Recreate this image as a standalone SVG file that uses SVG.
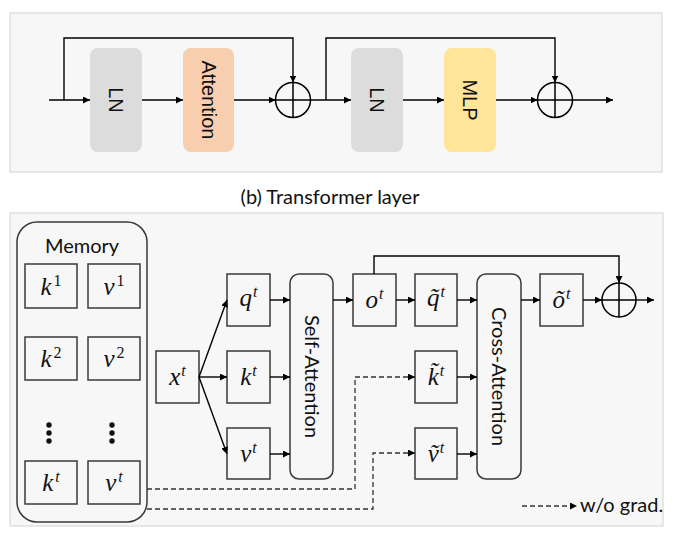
<svg xmlns="http://www.w3.org/2000/svg" width="678" height="536" viewBox="0 0 678 536">
<defs>
<marker id="ah" viewBox="0 0 10 10" refX="10" refY="5" markerWidth="7" markerHeight="7" markerUnits="userSpaceOnUse" orient="auto"><path d="M0,0 L10,5 L0,10 z" fill="#000"/></marker>
<style>
.panel{fill:#f7f7f7;stroke:#d2d2d2;stroke-width:1}
.blk{stroke:none}
.sans{font-family:"Liberation Sans",Arial,sans-serif;font-size:20px;fill:#111}
.cal{font-family:Lato,"Open Sans",sans-serif;font-size:20px;fill:#111}
.box{fill:#f7f7f7;stroke:#3a3a3a;stroke-width:1.5}
.rbox{fill:#f7f7f7;stroke:#3a3a3a;stroke-width:1.5}
.m{font-family:"Liberation Serif","DejaVu Serif",serif;font-style:italic;font-size:25px;fill:#111}
.sup{font-size:16px;font-style:normal}
.supi{font-size:16px}
.ln{fill:none;stroke:#000;stroke-width:1.4;marker-end:url(#ah)}
.dash{fill:none;stroke:#333;stroke-width:1.3;stroke-dasharray:5,3;marker-end:url(#ah)}
.plus{fill:none;stroke:#000;stroke-width:1.5}
</style>
</defs>

<!-- panels -->
<rect class="panel" x="10" y="13" width="652" height="159"/>
<rect class="panel" x="10" y="213" width="653" height="313"/>
<text class="cal" x="330" y="204" text-anchor="middle">(b) Transformer layer</text>

<!-- top panel nodes -->
<g id="ln1"><rect class="blk" x="90" y="48" width="52" height="104" rx="8" fill="#dcdcdc"/><text class="sans" transform="translate(116,100) rotate(90)" text-anchor="middle" dy="7">LN</text></g>
<g id="attn"><rect class="blk" x="183" y="48" width="51" height="104" rx="8" fill="#f8cfae"/><text class="sans" transform="translate(208.5,100) rotate(90)" text-anchor="middle" dy="7">Attention</text></g>
<g id="add1"><circle class="plus" cx="293" cy="100" r="17.5"/><path class="plus" d="M275.5,100 H310.5 M293,82.5 V117.5"/></g>
<g id="ln2"><rect class="blk" x="351" y="48" width="52" height="104" rx="8" fill="#dcdcdc"/><text class="sans" transform="translate(377,100) rotate(90)" text-anchor="middle" dy="7">LN</text></g>
<g id="mlp"><rect class="blk" x="444" y="48" width="52" height="104" rx="8" fill="#fee599"/><text class="sans" transform="translate(470,100) rotate(90)" text-anchor="middle" dy="7">MLP</text></g>
<g id="add2"><circle class="plus" cx="555" cy="100" r="17.5"/><path class="plus" d="M537.5,100 H572.5 M555,82.5 V117.5"/></g>

<!-- bottom panel nodes -->
<g id="memory">
<rect class="rbox" x="17" y="222" width="130" height="300" rx="20" stroke="#555" stroke-width="1.2"/>
<text class="cal" x="82" y="253" text-anchor="middle">Memory</text>
<rect class="box" x="25" y="264" width="52" height="44"/><text class="m" x="51" y="295" text-anchor="middle">k<tspan class="sup" dx="2" dy="-9">1</tspan></text>
<rect class="box" x="88" y="264" width="52" height="44"/><text class="m" x="114" y="295" text-anchor="middle">v<tspan class="sup" dx="2" dy="-9">1</tspan></text>
<rect class="box" x="25" y="337" width="52" height="43"/><text class="m" x="51" y="367" text-anchor="middle">k<tspan class="sup" dx="2" dy="-9">2</tspan></text>
<rect class="box" x="88" y="337" width="52" height="43"/><text class="m" x="114" y="367" text-anchor="middle">v<tspan class="sup" dx="2" dy="-9">2</tspan></text>
<circle cx="49" cy="425" r="2.7" fill="#111"/><circle cx="49" cy="433" r="2.7" fill="#111"/><circle cx="49" cy="441" r="2.7" fill="#111"/>
<circle cx="112" cy="425" r="2.7" fill="#111"/><circle cx="112" cy="433" r="2.7" fill="#111"/><circle cx="112" cy="441" r="2.7" fill="#111"/>
<rect class="box" x="25" y="461" width="52" height="43"/><text class="m" x="51" y="491" text-anchor="middle">k<tspan class="supi" dx="2" dy="-9">t</tspan></text>
<rect class="box" x="88" y="461" width="52" height="43"/><text class="m" x="114" y="491" text-anchor="middle">v<tspan class="supi" dx="2" dy="-9">t</tspan></text>
</g>
<g id="xt"><rect class="box" x="156" y="351" width="43" height="52"/><text class="m" x="177.5" y="385" text-anchor="middle">x<tspan class="supi" dx="1" dy="-9">t</tspan></text></g>
<g id="qt"><rect class="box" x="227" y="274" width="43" height="52"/><text class="m" x="248.5" y="306" text-anchor="middle">q<tspan class="supi" dx="1" dy="-9">t</tspan></text></g>
<g id="kt"><rect class="box" x="227" y="351" width="43" height="52"/><text class="m" x="248.5" y="385" text-anchor="middle">k<tspan class="supi" dx="1" dy="-9">t</tspan></text></g>
<g id="vt"><rect class="box" x="227" y="428" width="43" height="51"/><text class="m" x="248.5" y="462" text-anchor="middle">v<tspan class="supi" dx="1" dy="-9">t</tspan></text></g>
<g id="selfattn"><rect class="rbox" x="290" y="274" width="43" height="205" rx="9"/><text class="cal" transform="translate(311.5,376.5) rotate(90)" text-anchor="middle" dy="7">Self-Attention</text></g>
<g id="ot"><rect class="box" x="353" y="274" width="43" height="52"/><text class="m" x="374.5" y="308" text-anchor="middle">o<tspan class="supi" dx="1" dy="-9">t</tspan></text></g>
<g id="qtt"><rect class="box" x="415" y="274" width="42" height="52"/><text class="m" x="436" y="306" text-anchor="middle">q̃<tspan class="supi" dx="1" dy="-9">t</tspan></text></g>
<g id="ktt"><rect class="box" x="415" y="351" width="42" height="52"/><text class="m" x="436" y="385" text-anchor="middle">k̃<tspan class="supi" dx="1" dy="-9">t</tspan></text></g>
<g id="vtt"><rect class="box" x="415" y="428" width="42" height="51"/><text class="m" x="436" y="462" text-anchor="middle">ṽ<tspan class="supi" dx="1" dy="-9">t</tspan></text></g>
<g id="crossattn"><rect class="rbox" x="477" y="274" width="44" height="205" rx="9"/><text class="cal" transform="translate(499,376.5) rotate(90)" text-anchor="middle" dy="7">Cross-Attention</text></g>
<g id="ott"><rect class="box" x="540" y="274" width="43" height="52"/><text class="m" x="561.5" y="308" text-anchor="middle">õ<tspan class="supi" dx="1" dy="-9">t</tspan></text></g>
<g id="add3"><circle class="plus" cx="619" cy="300" r="17"/><path class="plus" d="M602,300 H636 M619,283 V317"/></g>
<g id="legend"><path class="dash" d="M522,506 H577"/><text class="cal" x="580" y="512" font-size="19">w/o grad.</text></g>

<!-- connectors -->
<g id="connectors">
<path class="ln" d="M49,100 H90"/>
<path class="ln" d="M64,100 V38 H293 V82.5"/>
<path class="ln" d="M142,100 H183"/>
<path class="ln" d="M234,100 H275.5"/>
<path class="ln" d="M310.5,100 H351"/>
<path class="ln" d="M326,100 V38 H555 V82.5"/>
<path class="ln" d="M403,100 H444"/>
<path class="ln" d="M496,100 H537.5"/>
<path class="ln" d="M572.5,100 H613"/>

<path class="ln" d="M199,377 L227,300"/>
<path class="ln" d="M199,377 H227"/>
<path class="ln" d="M199,377 L227,454"/>
<path class="ln" d="M270,300 H290"/>
<path class="ln" d="M270,377 H290"/>
<path class="ln" d="M270,454 H290"/>
<path class="ln" d="M333,300 H353"/>
<path class="ln" d="M396,300 H415"/>
<path class="ln" d="M457,300 H477"/>
<path class="ln" d="M457,377 H477"/>
<path class="ln" d="M457,454 H477"/>
<path class="ln" d="M521,300 H540"/>
<path class="ln" d="M583,300 H602"/>
<path class="ln" d="M636,300 H654"/>
<path class="ln" d="M374,274 V256 H619 V283"/>
<path class="dash" d="M147,489 H355 V377 H415"/>
<path class="dash" d="M147,509 H373 V453 H415"/>
</g>
</svg>
